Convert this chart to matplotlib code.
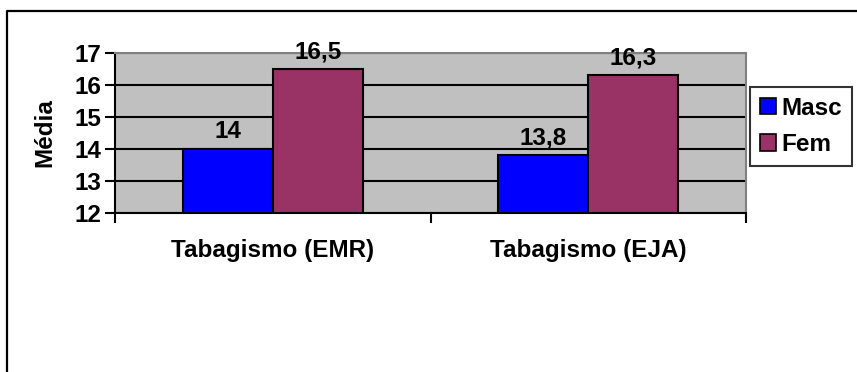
import matplotlib
matplotlib.use("Agg")
import matplotlib.pyplot as plt
from matplotlib.lines import Line2D
from matplotlib.patches import Patch
import numpy as np

categories = ["Tabagismo (EMR)", "Tabagismo (EJA)"]
series_names = ["Masc", "Fem"]
masc = [14.0, 13.8]
fem = [16.5, 16.3]
series_colors = ["#0000FF", "#993366"]
yticks = [12, 13, 14, 15, 16, 17]

plt.rcParams['font.family'] = ['Liberation Sans', 'DejaVu Sans']
plt.rcParams['font.weight'] = 'bold'
FS = 17.5

W, H = 857, 372
fig = plt.figure(figsize=(W/100, H/100), dpi=100)
ax = fig.add_axes([115/W, 1-212.7/H, (746-115)/W, (212.7-53)/H])

x = np.arange(len(categories))
bw = 0.286
ax.set_facecolor("#C0C0C0")
ax.set_ylim(12, 17)
ax.set_xlim(-0.5, len(categories)-0.5)
ax.set_yticks(yticks)
ax.set_yticklabels([str(t) for t in yticks], fontsize=FS, fontweight='bold')
ax.yaxis.grid(True, color='black', linewidth=1.5)
ax.set_axisbelow(True)

def fmt(v):
    s = ("%g" % v).replace('.', ',')
    return s

for i, (vals, col) in enumerate(zip([masc, fem], series_colors)):
    bars = ax.bar(x + (i-0.5)*bw, [v-12 for v in vals], bottom=12, width=bw,
                  color=col, edgecolor='black', linewidth=1.5, zorder=3)
    ax.bar_label(bars, labels=[fmt(v) for v in vals], padding=4,
                 fontsize=FS, fontweight='bold', zorder=4)

ax.set_xticks(x)
ax.set_xticklabels(categories, fontsize=FS, fontweight='bold')
ax.tick_params(axis='x', which='major', length=0, pad=19)
ax.set_xticks(np.arange(-0.5, len(categories), 1.0), minor=True)
ax.tick_params(axis='x', which='minor', length=7, width=1.5, direction='out')
ax.tick_params(axis='y', length=7, width=1.5, direction='out', pad=3)

for s in ['left', 'bottom']:
    ax.spines[s].set_color('black')
    ax.spines[s].set_linewidth(1.5)
for s in ['top', 'right']:
    ax.spines[s].set_color('#808080')
    ax.spines[s].set_linewidth(1.5)

fig.text(45/W, 1-132.5/H, "Média", rotation=90, ha='center', va='center',
         fontsize=FS, fontweight='bold')

handles = [Patch(facecolor=c, edgecolor='black', linewidth=1.2) for c in series_colors]
leg = fig.legend(handles, series_names, loc='upper left',
                 bbox_to_anchor=(750/W, 1-87/H), frameon=True, fancybox=False,
                 edgecolor='black', fontsize=FS, handlelength=0.65, handleheight=0.65,
                 handletextpad=0.25, borderpad=0.4, labelspacing=0.55,
                 borderaxespad=0)
leg.get_frame().set_linewidth(1.5)
for t in leg.get_texts():
    t.set_fontweight('bold')

# outer frame (left and top edges)
fy = 1 - 11/H
fx = 7/W
fig.add_artist(Line2D([fx, fx, 1.0], [0.0, fy, fy], transform=fig.transFigure,
                      color='black', linewidth=1.6))

fig.savefig("out.png", dpi=100)
